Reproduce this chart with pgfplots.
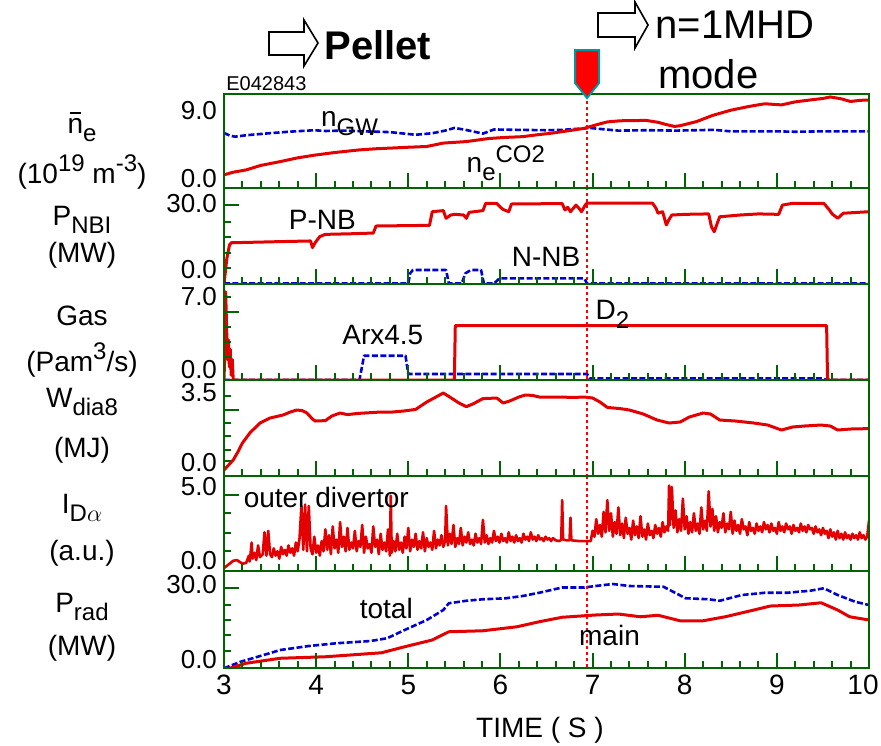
\documentclass[border=0pt]{standalone}
\usepackage{fontspec}
\setmainfont{Liberation Sans}
\usepackage{pgfplots}
\pgfplotsset{compat=1.18}
\usetikzlibrary{calc}
\definecolor{dgreen}{RGB}{0,100,0}
\definecolor{dred}{RGB}{228,0,0}
\definecolor{dblue}{RGB}{0,0,210}
\definecolor{tealc}{RGB}{0,150,160}
\newcommand\fs{\fontsize{14}{16}\selectfont}
\newcommand\ts{\fontsize{13}{14}\selectfont}
\newcommand\sbs[1]{\raisebox{-0.3em}{\fontsize{12}{13}\selectfont #1}}
\newcommand\sps[1]{\raisebox{0.45em}{\fontsize{12}{13}\selectfont #1}}
\newcommand\nbar{\leavevmode\rlap{\hspace{0.08em}\rule[0.68em]{0.4em}{0.075em}}n}
\pgfplotsset{
  panel/.style={scale only axis, width=322.5pt, anchor=north west,
    xmin=3, xmax=10, axis on top, no markers,
    axis line style={draw=dgreen, line width=1.3pt},
    tick style={draw=dgreen, line width=1pt},
    tick align=inside, xtick pos=left, ytick pos=left,
    xtick={3,4,5,6,7,8,9,10}, minor x tick num=4,
    major tick length=7.5pt, minor tick length=3.5pt,
    xticklabel=\empty, yticklabel=\empty,
    xticklabel style={font=\fs}, yticklabel style={font=\ts},
    extra y tick style={major tick length=0pt},
    every axis plot/.append style={line join=round}},
  rline/.style={dred, line width=1.5pt},
  bline/.style={dblue, line width=1.3pt, dash pattern=on 3pt off 1.2pt},
  vline/.style={red, line width=1pt, dash pattern=on 1.5pt off 1.5pt},
}
\begin{document}
\begin{tikzpicture}
\useasboundingbox (0,0) rectangle (440.5pt,-372.5pt);
% ---------------- panel 1: line density
\begin{axis}[panel, height=47pt, at={(112pt,-47pt)}, ymin=-1.19, ymax=11.24,
  ytick=\empty, minor ytick={0.3,1.65,3.0,4.35,5.7,7.05,8.4,9.75},
  extra y ticks={0,9}, extra y tick labels={0.0,9.0}]
\addplot[bline] coordinates {(3.00,6.1)(3.06,5.75)(3.12,5.6)(3.25,5.8)(3.49,6.05)(3.70,6.25)(3.98,6.45)(4.10,6.35)(4.30,6.4)(4.53,6.3)(4.80,6.2)(5.08,5.85)(5.26,6.05)(5.40,6.4)(5.50,6.75)(5.60,6.55)(5.70,6.3)(5.81,6.0)(5.93,6.55)(6.20,6.5)(6.50,6.45)(6.67,6.5)(6.97,6.75)(7.10,6.6)(7.28,6.4)(7.60,6.45)(7.90,6.4)(8.32,6.5)(8.50,6.3)(9.00,6.3)(9.20,6.25)(9.50,6.3)(10.00,6.3)};
\addplot[rline] coordinates {(3.00,0.55)(3.10,0.9)(3.24,1.2)(3.40,1.8)(3.61,2.3)(3.80,2.8)(3.98,3.15)(4.20,3.5)(4.47,3.85)(4.65,4.0)(4.83,4.1)(5.00,4.2)(5.20,4.3)(5.30,4.55)(5.38,4.75)(5.63,4.95)(5.87,5.35)(6.05,5.5)(6.24,5.6)(6.40,5.85)(6.55,6.05)(6.75,6.4)(6.91,6.7)(7.05,7.2)(7.16,7.55)(7.30,7.7)(7.58,7.75)(7.71,7.5)(7.80,7.2)(7.89,6.95)(7.95,7.05)(8.13,7.6)(8.30,8.4)(8.50,9.1)(8.70,9.6)(8.87,9.95)(9.05,9.8)(9.20,10.2)(9.36,10.45)(9.50,10.65)(9.58,10.85)(9.70,10.6)(9.80,10.25)(9.90,10.4)(10.00,10.45)};
\addplot[vline] coordinates {(6.94,-2)(6.94,12)};
\pgfplotsinvokeforeach{3.2,3.4,...,9.8}{\draw[dgreen, line width=1pt] (axis cs:#1,11.24) -- ++(0,-2.8pt);}
\node[anchor=base west, inner sep=0, font=\fs] at (axis cs:4.05,6.88) {n\sbs{GW}};
\node[anchor=base west, inner sep=0, font=\fs] at (axis cs:5.63,0.8) {n\raisebox{-4pt}{\fontsize{12}{13}\selectfont e}\raisebox{5pt}{\fontsize{12}{13}\selectfont CO2}};
\coordinate (mk) at (axis cs:6.94,11.24);
\end{axis}
% ---------------- panel 2: NBI
\begin{axis}[panel, height=48pt, at={(112pt,-94pt)}, ymin=-6.36, ymax=37.27,
  ytick={29.5}, minor ytick={22.0,15.1,7.9,0.9},
  extra y ticks={0,30}, extra y tick labels={0.0,30.0}]
\addplot[bline] coordinates {(3.00,-6.1)(5.00,-6.1)(5.02,-1.5)(5.05,0)(5.41,0)(5.44,-6.1)(5.58,-6.1)(5.62,-1.5)(5.68,0)(5.79,0)(5.82,-6.1)(5.93,-6.1)(5.99,-3.8)(6.91,-3.8)(6.94,-6.1)(10.00,-6.1)};
\addplot[rline] coordinates {(3.00,-6.3)(3.03,5)(3.06,11.5)(3.08,12.4)(3.30,12.6)(3.60,12.9)(3.94,13.2)(3.96,10.2)(3.99,12.5)(4.04,15.2)(4.10,16.2)(4.40,16.5)(4.62,16.8)(4.65,20.0)(5.23,20.3)(5.26,26.5)(5.38,27)(5.41,23.5)(5.46,25)(5.51,25.3)(5.60,25)(5.63,23.5)(5.66,26.2)(5.81,27)(5.84,30.3)(5.96,30.3)(6.00,28.5)(6.03,27.5)(6.09,26.5)(6.12,30)(6.67,30.2)(6.70,27.3)(6.73,28.5)(6.76,26.5)(6.82,29.5)(6.85,28.2)(6.88,26.5)(6.92,29.5)(6.94,30.4)(7.65,30.4)(7.69,28)(7.71,25.8)(7.76,26.5)(7.80,20.5)(7.83,23)(7.86,25)(8.00,25.3)(8.26,25.5)(8.29,19.7)(8.32,17.4)(8.36,22)(8.38,24.2)(8.60,25)(8.80,25.5)(9.02,25.3)(9.06,29.5)(9.17,30.3)(9.51,30.3)(9.57,27.3)(9.60,25.5)(9.66,23.5)(9.72,25.8)(10.00,26.5)};
\addplot[vline] coordinates {(6.94,-10)(6.94,40)};
\node[anchor=base west, inner sep=0, font=\fs] at (axis cs:3.70,18.2) {P-NB};
\node[anchor=base west, inner sep=0, font=\fs] at (axis cs:6.12,1.4) {N-NB};
\end{axis}
% ---------------- panel 3: gas
\begin{axis}[panel, height=48pt, at={(112pt,-142pt)}, ymin=-0.96, ymax=8.25,
  ytick={5.59}, minor ytick={7.03,4.15,2.71,1.27},
  extra y ticks={0,7}, extra y tick labels={0.0,7.0}]
\addplot[bline] coordinates {(3.0,-0.96)(4.47,-0.96)(4.52,1.37)(4.97,1.37)(5.00,-0.38)(6.94,-0.38)(6.97,-0.8)(9.51,-0.8)(9.53,-0.96)(10,-0.96)};
\addplot[rline] coordinates {(3.000,-0.9)(3.012,2.5)(3.018,7.5)(3.030,3.5)(3.038,1.0)(3.048,2.9)(3.058,0.3)(3.068,2.0)(3.078,-0.5)(3.090,1.0)(3.100,-0.96)(5.50,-0.96)(5.51,4.25)(9.54,4.25)(9.55,-0.96)(10.0,-0.96)};
\addplot[vline] coordinates {(6.94,-2)(6.94,10)};
\node[anchor=base west, inner sep=0, font=\fs] at (axis cs:4.28,2.4) {Arx4.5};
\node[anchor=base west, inner sep=0, font=\fs] at (axis cs:7.03,4.8) {D\sbs{2}};
\end{axis}
% ---------------- panel 4: stored energy
\begin{axis}[panel, height=48pt, at={(112pt,-190pt)}, ymin=-0.65, ymax=4.15,
  ytick={2.67}, minor ytick={3.33,2.0,1.33,0.67,0.08},
  extra y ticks={0,3.5}, extra y tick labels={0.0,3.5}]
\addplot[rline] coordinates {(3.00,-0.35)(3.05,-0.1)(3.10,0.15)(3.15,0.55)(3.20,1.0)(3.28,1.5)(3.39,2.0)(3.50,2.25)(3.64,2.4)(3.72,2.55)(3.79,2.65)(3.85,2.62)(3.90,2.5)(3.96,2.2)(3.99,2.1)(4.10,2.12)(4.17,2.35)(4.26,2.5)(4.34,2.42)(4.45,2.48)(4.60,2.52)(4.70,2.55)(4.83,2.55)(4.95,2.6)(5.08,2.68)(5.20,3.05)(5.30,3.3)(5.38,3.5)(5.45,3.3)(5.55,3.0)(5.63,2.82)(5.70,2.95)(5.81,3.22)(5.96,3.25)(6.03,3.0)(6.10,3.1)(6.20,3.3)(6.27,3.4)(6.35,3.38)(6.42,3.3)(6.60,3.3)(6.80,3.28)(6.91,3.3)(7.00,3.25)(7.08,3.05)(7.16,2.78)(7.30,2.72)(7.40,2.65)(7.55,2.45)(7.70,2.15)(7.83,2.0)(7.95,2.05)(8.05,2.3)(8.20,2.5)(8.28,2.45)(8.38,2.15)(8.55,2.1)(8.75,2.0)(8.90,1.9)(9.05,1.65)(9.17,1.8)(9.30,1.85)(9.48,1.9)(9.58,1.85)(9.66,1.65)(9.80,1.7)(10.00,1.72)};
\addplot[vline] coordinates {(6.94,-1)(6.94,5)};
\end{axis}
% ---------------- panel 5: D alpha
\begin{axis}[panel, height=47.5pt, at={(112pt,-238pt)}, ymin=-0.75, ymax=5.75,
  ytick={4.47}, minor ytick={3.22,1.85,0.6},
  extra y ticks={0,5}, extra y tick labels={0.0,5.0}]
\addplot[dred, line width=1.3pt] coordinates {(3.00,-0.55)(3.05,-0.3)(3.10,-0.05)(3.14,0.0)(3.20,-0.25)(3.24,-0.2)(3.27,0.3)(3.28,-0.1)(3.30,1.2)(3.31,0.1)(3.33,0.5)(3.35,0.0)(3.37,1.0)(3.39,0.2)(3.42,0.4)(3.44,1.9)(3.46,0.3)(3.48,2.0)(3.50,0.4)(3.52,0.2)(3.54,0.8)(3.56,0.3)(3.58,0.6)(3.60,0.1)(3.62,0.9)(3.64,0.4)(3.66,0.7)(3.68,0.3)(3.70,1.0)(3.72,0.5)(3.74,0.8)(3.76,0.3)(3.78,1.2)(3.80,0.6)(3.82,1.5)(3.84,3.7)(3.86,0.7)(3.88,3.8)(3.90,0.6)(3.92,3.7)(3.94,0.8)(3.96,0.4)(3.98,1.6)(4.00,0.5)(4.02,1.0)(4.04,0.3)(4.06,1.3)(4.08,0.6)(4.10,2.1)(4.12,0.7)(4.14,1.7)(4.16,0.4)(4.18,2.3)(4.20,0.8)(4.22,1.4)(4.24,0.5)(4.26,2.6)(4.28,0.9)(4.30,1.6)(4.32,0.6)(4.34,2.2)(4.36,0.7)(4.38,1.2)(4.40,0.8)(4.42,2.0)(4.44,0.6)(4.46,1.3)(4.48,0.9)(4.50,2.4)(4.52,0.5)(4.54,1.6)(4.56,0.8)(4.58,1.1)(4.60,0.5)(4.62,2.3)(4.64,0.9)(4.66,1.4)(4.68,0.4)(4.70,1.8)(4.72,0.7)(4.74,1.2)(4.76,0.6)(4.78,2.1)(4.80,0.3)(4.81,4.4)(4.82,0.5)(4.84,1.3)(4.86,0.6)(4.88,1.8)(4.90,0.7)(4.92,1.2)(4.94,0.5)(4.96,1.6)(4.98,0.8)(5.00,2.2)(5.02,0.6)(5.04,1.4)(5.06,0.9)(5.08,1.8)(5.10,0.7)(5.12,1.3)(5.14,0.8)(5.16,1.9)(5.18,0.6)(5.20,1.5)(5.22,0.9)(5.24,1.2)(5.26,0.7)(5.28,2.0)(5.30,0.8)(5.32,1.4)(5.34,1.0)(5.36,1.7)(5.38,0.9)(5.40,1.3)(5.41,3.7)(5.43,1.0)(5.45,1.8)(5.47,1.1)(5.49,2.4)(5.51,0.9)(5.53,1.5)(5.55,1.1)(5.57,2.2)(5.59,1.0)(5.61,1.6)(5.63,1.2)(5.65,1.9)(5.67,1.1)(5.69,1.4)(5.71,1.0)(5.73,1.8)(5.75,1.2)(5.77,1.5)(5.79,1.1)(5.81,2.75)(5.83,1.2)(5.85,1.7)(5.87,1.1)(5.89,1.5)(5.91,1.2)(5.93,2.0)(5.95,1.3)(5.97,1.6)(5.99,1.2)(6.01,1.8)(6.03,1.3)(6.05,1.5)(6.07,1.2)(6.09,1.9)(6.11,1.3)(6.13,1.6)(6.15,1.2)(6.17,1.7)(6.19,1.3)(6.21,1.5)(6.23,1.2)(6.25,1.8)(6.27,1.4)(6.29,1.6)(6.31,1.3)(6.33,1.9)(6.35,1.4)(6.37,1.6)(6.39,1.3)(6.41,1.7)(6.43,1.4)(6.45,1.5)(6.47,1.3)(6.49,1.6)(6.51,1.4)(6.53,1.5)(6.55,1.3)(6.57,1.5)(6.60,1.35)(6.64,1.3)(6.66,1.4)(6.67,4.1)(6.68,1.4)(6.72,1.35)(6.75,1.35)(6.76,2.9)(6.77,1.35)(6.85,1.3)(6.93,1.3)(6.98,1.3)(7.00,2.0)(7.02,1.6)(7.04,2.8)(7.06,1.8)(7.08,2.4)(7.10,1.6)(7.12,3.3)(7.14,1.9)(7.16,4.1)(7.18,2.0)(7.20,3.2)(7.22,1.6)(7.24,2.6)(7.26,1.8)(7.28,3.6)(7.30,1.7)(7.32,2.5)(7.34,1.5)(7.36,2.9)(7.38,1.8)(7.40,2.2)(7.42,1.4)(7.44,2.7)(7.46,1.7)(7.48,2.3)(7.50,1.5)(7.52,3.0)(7.54,1.6)(7.56,2.1)(7.58,1.4)(7.60,2.5)(7.62,1.7)(7.64,2.0)(7.66,1.5)(7.68,2.4)(7.70,1.8)(7.72,2.2)(7.74,1.6)(7.76,2.6)(7.78,1.9)(7.80,2.3)(7.82,2.0)(7.83,5.1)(7.84,2.4)(7.86,5.0)(7.88,2.2)(7.90,3.4)(7.92,1.9)(7.94,2.8)(7.96,2.0)(7.98,4.2)(8.00,2.1)(8.02,3.0)(8.04,1.8)(8.06,2.6)(8.08,1.9)(8.10,3.2)(8.12,2.0)(8.14,2.5)(8.16,1.8)(8.18,3.6)(8.20,2.1)(8.22,2.7)(8.24,2.0)(8.26,4.7)(8.28,2.3)(8.30,3.5)(8.32,2.0)(8.34,3.0)(8.36,1.9)(8.38,2.6)(8.40,2.2)(8.42,3.2)(8.44,1.9)(8.46,2.5)(8.48,2.1)(8.50,3.3)(8.52,1.8)(8.54,2.7)(8.56,2.0)(8.58,2.4)(8.60,1.8)(8.62,2.8)(8.64,2.1)(8.66,2.3)(8.68,1.7)(8.70,2.6)(8.72,2.0)(8.74,2.2)(8.76,1.8)(8.78,2.5)(8.80,2.0)(8.82,2.3)(8.84,1.9)(8.86,2.6)(8.88,2.1)(8.90,2.4)(8.92,1.9)(8.94,2.5)(8.96,2.0)(8.98,2.2)(9.00,1.8)(9.02,2.6)(9.04,2.0)(9.06,2.3)(9.08,1.9)(9.10,2.5)(9.12,2.1)(9.14,2.3)(9.16,1.8)(9.18,2.4)(9.20,2.0)(9.22,2.2)(9.24,1.9)(9.26,2.5)(9.28,2.0)(9.30,2.3)(9.32,1.9)(9.34,2.4)(9.36,2.1)(9.38,2.2)(9.40,1.8)(9.42,2.3)(9.44,1.9)(9.46,2.1)(9.48,1.7)(9.50,2.2)(9.52,1.8)(9.54,2.0)(9.56,1.5)(9.58,2.1)(9.60,1.6)(9.62,1.9)(9.64,1.4)(9.66,2.0)(9.68,1.5)(9.70,1.8)(9.72,1.4)(9.74,1.9)(9.76,1.5)(9.78,1.7)(9.80,1.4)(9.82,1.8)(9.84,1.5)(9.86,1.7)(9.88,1.4)(9.90,1.9)(9.92,1.5)(9.94,1.7)(9.96,1.4)(9.98,1.6)(10.00,2.7)};
\addplot[vline] coordinates {(6.94,-1)(6.94,7)};
\node[anchor=base west, inner sep=0, font=\fs] at (axis cs:3.21,3.63) {outer divertor};
\end{axis}
% ---------------- panel 6: radiated power
\begin{axis}[panel, height=48.5pt, at={(112pt,-285.5pt)}, ymin=-3.2, ymax=35.6,
  ytick={28.8}, minor ytick={22.1,16.1,10.1,3.5},
  extra y ticks={0,30}, extra y tick labels={0.0,30.0},
  xticklabels={3,4,5,6,7,8,9,\hspace*{-6pt}10}]
\addplot[bline] coordinates {(3.00,-3.3)(3.18,-0.7)(3.43,2)(3.61,4)(3.92,5.6)(4.22,6.7)(4.59,7.6)(4.77,8.7)(4.96,12)(5.20,16)(5.38,20)(5.44,22.7)(5.63,23.7)(5.81,24.3)(6.06,24.7)(6.24,25.6)(6.42,26.9)(6.67,29)(6.91,29)(7.03,29.6)(7.22,30.4)(7.40,29.6)(7.77,29.3)(8.01,24.7)(8.26,24.3)(8.38,23.7)(8.62,26)(8.87,26.9)(9.11,26.9)(9.36,27.7)(9.51,28.7)(9.66,26)(9.85,23.3)(10.00,22)};
\addplot[rline] coordinates {(3.06,-3.3)(3.24,-1.3)(3.61,0.7)(4.10,1.3)(4.71,2.9)(4.96,5.3)(5.26,8)(5.44,11.3)(5.81,11.7)(6.18,13.3)(6.42,15.3)(6.67,17.1)(7.03,18)(7.28,18.4)(7.52,17.3)(7.71,17.9)(7.95,15.7)(8.20,15.7)(8.44,17.3)(8.75,20)(8.93,21.6)(9.24,22)(9.48,22.9)(9.66,20)(9.79,17.3)(10.00,16)};
\addplot[vline] coordinates {(6.94,-5)(6.94,40)};
\node[anchor=base west, inner sep=0, font=\fs] at (axis cs:4.47,16.8) {total};
\node[anchor=base west, inner sep=0, font=\fs] at (axis cs:6.85,6) {main};
\end{axis}
% ---------------- annotations
\node[font=\fs] at (270pt,-365pt) {TIME ( S )};
\node[font=\fs] at (41pt,-63.5pt) {\nbar\sbs{e}};
\node[font=\fs] at (41pt,-86pt) {(10\sps{19} m\sps{-3})};
\node[font=\fs] at (41pt,-110pt) {P\sbs{NBI}};
\node[font=\fs] at (41pt,-127.5pt) {(MW)};
\node[font=\fs] at (41pt,-158pt) {Gas};
\node[font=\fs] at (41pt,-180pt) {(Pam\sps{3}/s)};
\node[font=\fs] at (41pt,-201pt) {W\sbs{dia8}};
\node[font=\fs] at (41pt,-225pt) {(MJ)};
\node[font=\fs] at (41pt,-254pt) {I\sbs{D$\alpha$}};
\node[font=\fs] at (41pt,-276.5pt) {(a.u.)};
\node[font=\fs] at (41pt,-303.5pt) {P\sbs{rad}};
\node[font=\fs] at (41pt,-324pt) {(MW)};
\node[anchor=west, inner sep=0, font=\fontsize{10}{12}\selectfont] at (113pt,-42pt) {E042843};
\draw[line width=0.8pt, fill=white] (134.5pt,-16pt) -- (152pt,-16pt) -- (152pt,-10pt) -- (159pt,-21.5pt) -- (152pt,-33pt) -- (152pt,-27.5pt) -- (134.5pt,-27.5pt) -- cycle;
\node[anchor=west, inner sep=0, font=\fontsize{20}{24}\selectfont\bfseries] at (162pt,-22.5pt) {Pellet};
\draw[line width=0.8pt, fill=white] (299pt,-6.5pt) -- (317.5pt,-6.5pt) -- (317.5pt,-1pt) -- (324pt,-12.5pt) -- (317.5pt,-24pt) -- (317.5pt,-18.5pt) -- (299pt,-18.5pt) -- cycle;
\node[anchor=west, inner sep=0, font=\fontsize{20}{24}\selectfont] at (327.5pt,-12.5pt) {n=1MHD};
\node[anchor=west, inner sep=0, font=\fontsize{20}{24}\selectfont] at (329pt,-37pt) {mode};
\draw[fill=red, draw=tealc, line width=1pt] ($(mk)+(-6pt,22pt)$) -- ($(mk)+(6pt,22pt)$) -- ($(mk)+(6pt,5.5pt)$) -- ($(mk)+(0pt,-2pt)$) -- ($(mk)+(-6pt,5.5pt)$) -- cycle;
\end{tikzpicture}
\end{document}
